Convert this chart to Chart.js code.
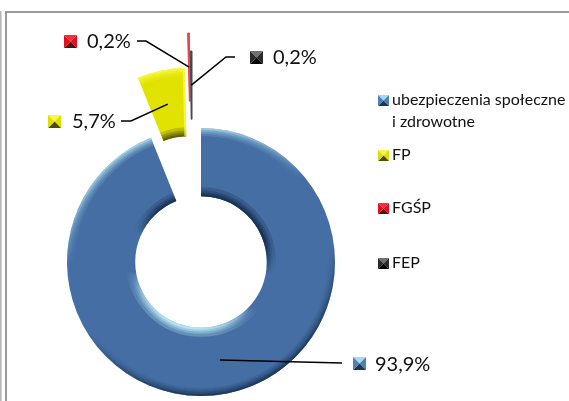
<!DOCTYPE html>
<html lang="pl">
<head>
<meta charset="utf-8">
<title>Struktura składek</title>
<script src="https://cdn.jsdelivr.net/npm/chart.js@4"></script>
<style>
  html, body { margin: 0; padding: 0; background: #fff; }
  canvas { display: block; }
</style>
</head>
<body>
<canvas id="chart" width="569" height="401"></canvas>
<script>
// Data
const categories = [['ubezpieczenia społeczne', 'i zdrowotne'], ['FP'], ['FGŚP'], ['FEP']];
const values = [93.9, 5.7, 0.2, 0.2];

// Slice styling
const sliceColors = ['#456fa4', '#e2e200', '#e8404c', '#484848'];
const sliceBorders = [0, 0, 1, 1];
// how far each slice is pulled out of the ring, x and y
const explodeX = [0, -13, -10, -9];
const explodeY = [0, -60, -95, -77];
// bevel colours: rim light, rim dark
const rimLight = ['#c4f6fc', '#ffff50', '#ff8088', '#808080'];
const rimDark = ['#12294a', '#4c4c00', '#a02028', '#303030'];
// marker pyramid: top, sides, bottom
const markerColors = [
  ['#a8d8ee', '#4f80b4', '#1c3552'],
  ['#f6f64a', '#dede00', '#4c4c00'],
  ['#f4303c', '#e01020', '#5a0a10'],
  ['#707070', '#2a2a2a', '#000000']
];

// Layout of the labels and legend
const labelPos = [
  { marker: [353, 357], text: [375, 365], leader: [[342, 363]] },
  { marker: [48, 115], text: [72, 122], leader: [[131, 121], [121, 121]] },
  { marker: [64, 35], text: [87, 42], leader: [[146, 41], [137, 41]] },
  { marker: [250, 51], text: [273, 58], leader: [[226, 57], [235, 57]] }
];
const legendX = 378;
const legendY = [100, 155, 208, 263];
const labelFont = '20px Lato';
const legendFont = '16px Lato';

function drawMarker(ctx, x, y, size, colors) {
  const c = [x + size / 2, y + size / 2];
  const corners = [[x, y], [x + size, y], [x + size, y + size], [x, y + size]];
  const faces = [colors[0], colors[1], colors[2], colors[1]];
  faces.forEach(function (col, i) {
    const a = corners[i], b = corners[(i + 1) % 4];
    ctx.fillStyle = col;
    ctx.beginPath();
    ctx.moveTo(a[0], a[1]);
    ctx.lineTo(b[0], b[1]);
    ctx.lineTo(c[0], c[1]);
    ctx.closePath();
    ctx.fill();
  });
}

// moves the exploded slices, the built-in offset option changes their size too
const explodePlugin = {
  id: 'explode',
  afterDatasetsUpdate(chart) {
    chart.getDatasetMeta(0).data.forEach(function (arc, i) {
      arc.x += explodeX[i];
      arc.y += explodeY[i];
    });
  }
};

// soft rim on each slice
const bevelPlugin = {
  id: 'bevel',
  afterDatasetsDraw(chart) {
    const ctx = chart.ctx;
    chart.getDatasetMeta(0).data.forEach(function (arc, i) {
      const start = arc.startAngle, end = arc.endAngle;
      const outer = arc.outerRadius, inner = arc.innerRadius;
      if (end - start < 0.05) return;

      ctx.save();
      ctx.beginPath();
      ctx.arc(arc.x, arc.y, outer, start, end);
      ctx.arc(arc.x, arc.y, inner, end, start, true);
      ctx.closePath();
      ctx.clip();

      const outerGrad = ctx.createLinearGradient(arc.x - 50, arc.y - outer, arc.x + 50, arc.y + outer);
      outerGrad.addColorStop(0, rimLight[i]);
      outerGrad.addColorStop(0.35, rimLight[i] + '00');
      outerGrad.addColorStop(0.6, rimDark[i] + '00');
      outerGrad.addColorStop(0.95, rimDark[i]);

      const innerGrad = ctx.createLinearGradient(arc.x + 25, arc.y - inner, arc.x - 15, arc.y + inner);
      innerGrad.addColorStop(0, rimDark[i]);
      innerGrad.addColorStop(0.22, rimDark[i]);
      innerGrad.addColorStop(0.45, rimDark[i] + '00');
      innerGrad.addColorStop(0.72, rimLight[i] + '00');
      innerGrad.addColorStop(1, rimLight[i]);

      [[16, 0.15], [12, 0.2], [8, 0.3], [4, 0.5]].forEach(function (w) {
        ctx.globalAlpha = w[1];
        ctx.lineWidth = w[0];
        ctx.strokeStyle = outerGrad;
        ctx.beginPath();
        ctx.arc(arc.x, arc.y, outer, start, end);
        ctx.stroke();
      });
      [[18, 0.25], [12, 0.3], [8, 0.4], [4, 0.6]].forEach(function (w) {
        ctx.globalAlpha = w[1];
        ctx.lineWidth = w[0];
        ctx.strokeStyle = innerGrad;
        ctx.beginPath();
        ctx.arc(arc.x, arc.y, inner, start, end);
        ctx.stroke();
      });

      // only the small slice has a lit side edge
      if (i === 1) {
        ctx.globalAlpha = 0.7;
        ctx.lineWidth = 4;
        ctx.strokeStyle = rimLight[i];
        ctx.beginPath();
        ctx.moveTo(arc.x + Math.cos(end) * inner, arc.y + Math.sin(end) * inner);
        ctx.lineTo(arc.x + Math.cos(end) * outer, arc.y + Math.sin(end) * outer);
        ctx.stroke();
      }
      ctx.restore();
    });
  }
};

// leader lines, value labels, legend and the frame
const textPlugin = {
  id: 'texts',
  beforeDraw(chart) {
    const ctx = chart.ctx;
    ctx.save();
    ctx.strokeStyle = '#9a9a9a';
    ctx.lineWidth = 2;
    ctx.beginPath();
    ctx.moveTo(6, 401);
    ctx.lineTo(6, 12);
    ctx.lineTo(569, 12);
    ctx.stroke();
    ctx.strokeStyle = '#b4b4b4';
    ctx.beginPath();
    ctx.moveTo(0.5, 11);
    ctx.lineTo(0.5, 401);
    ctx.stroke();
    ctx.restore();
  },
  afterDraw(chart) {
    const ctx = chart.ctx;
    const arcs = chart.getDatasetMeta(0).data;
    ctx.save();
    ctx.textBaseline = 'middle';
    ctx.textAlign = 'left';

    values.forEach(function (v, i) {
      const pos = labelPos[i];
      const from = arcs[i].getCenterPoint();
      ctx.strokeStyle = '#000';
      ctx.lineWidth = 1.5;
      ctx.beginPath();
      ctx.moveTo(from.x, from.y);
      pos.leader.forEach(function (p) { ctx.lineTo(p[0], p[1]); });
      ctx.stroke();

      drawMarker(ctx, pos.marker[0], pos.marker[1], 13, markerColors[i]);
      ctx.fillStyle = '#111';
      ctx.font = labelFont;
      ctx.fillText(v.toFixed(1).replace('.', ',') + '%', pos.text[0], pos.text[1]);
    });

    ctx.font = legendFont;
    categories.forEach(function (lines, i) {
      drawMarker(ctx, legendX, legendY[i] - 5, 11, markerColors[i]);
      ctx.fillStyle = '#111';
      lines.forEach(function (line, k) {
        ctx.fillText(line, legendX + 14, legendY[i] + k * 22);
      });
    });
    ctx.restore();
  }
};

new Chart(document.getElementById('chart').getContext('2d'), {
  type: 'doughnut',
  data: {
    labels: categories.map(function (c) { return c.join(' '); }),
    datasets: [{
      data: values,
      backgroundColor: sliceColors,
      borderColor: sliceColors,
      borderWidth: sliceBorders
    }]
  },
  options: {
    responsive: false,
    animation: false,
    radius: 134,
    cutout: 68,
    layout: { padding: { left: 0, right: 167, top: 123, bottom: 0 } },
    plugins: {
      legend: { display: false },
      tooltip: { enabled: false }
    }
  },
  plugins: [explodePlugin, bevelPlugin, textPlugin]
});
</script>
</body>
</html>
